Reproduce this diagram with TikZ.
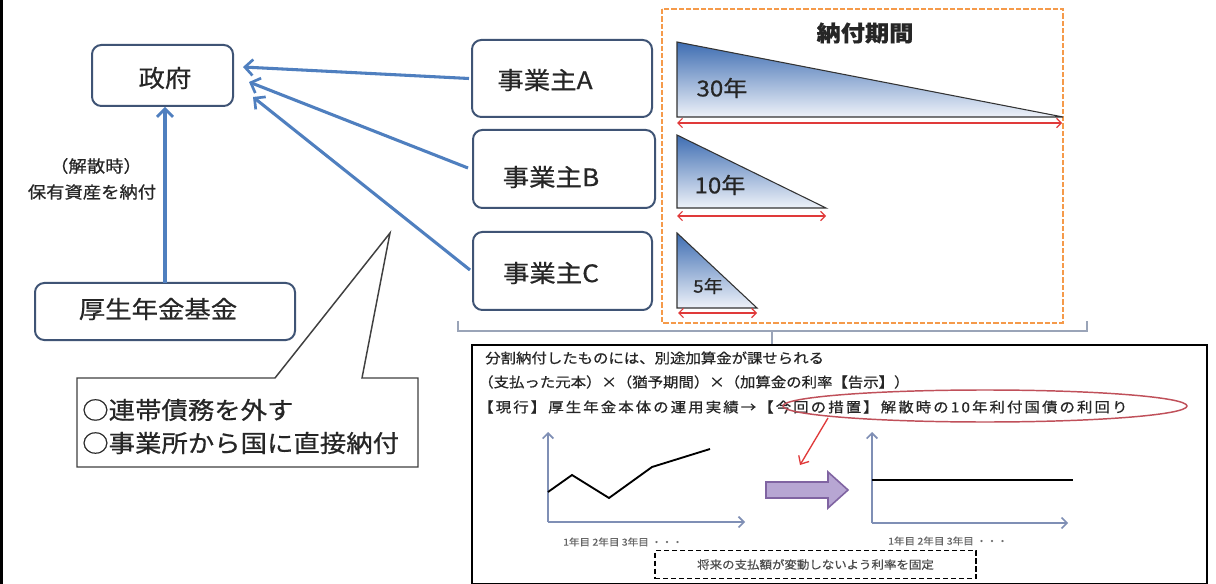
\documentclass[tikz,border=0pt]{standalone}
\usepackage{fontspec}
\setmainfont{Noto Sans CJK JP}[FakeStretch=1.1,FakeBold=0.6]
\usetikzlibrary{arrows.meta,shapes.geometric,calc}
\definecolor{boxb}{HTML}{3F5475}
\definecolor{arrb}{HTML}{4F7FBF}
\definecolor{txt}{HTML}{262626}
\definecolor{orng}{HTML}{F59A4A}
\definecolor{triT}{HTML}{3E6DB2}
\definecolor{triB}{HTML}{EEF2F9}
\definecolor{redl}{HTML}{E03A3A}
\definecolor{ellc}{HTML}{C0505A}
\definecolor{axisc}{HTML}{7F8FB5}
\definecolor{purF}{HTML}{B7A6D3}
\definecolor{purD}{HTML}{8064A2}
\definecolor{brk}{HTML}{9AA4B8}
\newcommand\jfs[1]{\fontsize{#1}{#1}\selectfont}
\begin{document}
\begin{tikzpicture}[x=0.75pt,y=-0.75pt,
  bx/.style={draw=boxb, line width=1.5pt, rounded corners=7pt, fill=white, inner sep=0pt},
  barr/.style={draw=arrb, line width=2.3pt, -{Straight Barb[length=6pt,width=12pt,line width=2pt]}},
  tri/.style={draw=black!80, line width=0.8pt, top color=triT, bottom color=triB},
  rarr/.style={draw=redl, line width=0.9pt, {Straight Barb[length=3.5pt,width=7pt]}-{Straight Barb[length=3.5pt,width=7pt]}},
  axarr/.style={draw=axisc, line width=1.2pt, -{Straight Barb[length=4pt,width=8pt]}},
  lbl/.style={text=txt, inner sep=0pt},
  big/.style={lbl, font=\jfs{18pt}},
  yrs/.style={text=black!60, inner sep=0pt, font=\jfs{7.2pt}},
  ln/.style={lbl, anchor=west, font=\jfs{10.5pt}}
]
\useasboundingbox (0,0) rectangle (1216,584);
\fill[white] (0,0) rectangle (1216,584);
\draw[black, line width=1.5pt] (1.5,0) -- (1.5,584);

% government & fund
\node[bx, minimum width=105.75pt, minimum height=45.75pt] (gov) at (162.5,75.5) {};
\node[big] at (165,78) {政府};
\node[bx, minimum width=195pt, minimum height=42.75pt] (fund) at (165,311.5) {};
\node[big] at (158,309) {厚生年金基金};
\coordinate (fs) at (165,283);
\coordinate (gs) at (165,107);
\draw[barr] (fs) -- (gs);
\node[lbl, font=\jfs{12.5pt}] at (96,166) {（解散時）};
\node[lbl, font=\jfs{12.5pt}] at (92,192) {保有資産を納付};

% employers
\node[bx, minimum width=135pt, minimum height=57.75pt] (A) at (562,78.5) {};
\node[big] at (545,80) {事業主A};
\node[bx, minimum width=136.5pt, minimum height=58.5pt] (B) at (564,169) {};
\node[big] at (551,177) {事業主B};
\node[bx, minimum width=134.25pt, minimum height=58.5pt] (C) at (562.5,271) {};
\node[big] at (551,273) {事業主C};
\draw[barr] ($(A.west)+(-2,0)$) -- ($(gov.east)+(9,-8.5)$);
\draw[barr] ($(B.west)+(-4,-1)$) -- ($(gov.east)+(15,6.5)$);
\draw[barr] ($(C.west)+(-2,-1)$) -- ($(gov.east)+(19,21.5)$);

% payment period box
\draw[orng, line width=1.8pt, dash pattern=on 4pt off 1.5pt] (662,9) rectangle (1063,323);
\node[lbl, font=\bfseries\jfs{16.5pt}] at (865,33) {納付期間};
\draw[tri] (677,42) -- (677,117) -- (1063,117) -- cycle;
\node[lbl, font=\jfs{16.5pt}] at (722,88) {30年};
\draw[rarr] (677,123) -- (1062,123);
\draw[tri] (677,135) -- (677,208) -- (826,208) -- cycle;
\node[lbl, font=\jfs{16.5pt}] at (720,185) {10年};
\draw[rarr] (677,216) -- (826,216);
\draw[tri] (677,233) -- (677,308) -- (757,308) -- cycle;
\node[lbl, font=\jfs{13pt}] at (708,286) {5年};
\draw[rarr] (678,313) -- (757,313);

% bracket
\draw[brk, line width=1.1pt] (458,321) -- (458,331) -- (1087,331) -- (1087,321);

% callout
\draw[black!75, line width=1.1pt, fill=white] (77,378) -- (275,378) -- (390,233) -- (362,378) -- (418,378) -- (418,467) -- (77,467) -- cycle;
\node[lbl, anchor=west, font=\jfs{18pt}] at (82,410) {○連帯債務を外す};
\node[lbl, anchor=west, font=\jfs{18pt}] at (82,443) {○事業所から国に直接納付};

% lower box
\node[draw=black, line width=1.5pt, minimum width=551.25pt, minimum height=179.25pt, inner sep=0pt] (low) at (839.5,464.5) {};
\coordinate (bt) at (772,331);
\draw[brk, line width=1.1pt] (bt) -- (bt |- low.north);
\node[ln] at (485,358) {分割納付したものには、別途加算金が課せられる};
\node[ln] at (478,382) {（支払った元本）×（猶予期間）×（加算金の利率【告示】）};
\node[ln, font=\jfs{10.5pt}\addfontfeature{LetterSpace=15}] at (478,407) {【現行】厚生年金本体の運用実績→【今回の措置】解散時の10年利付国債の利回り};
\node[draw=ellc, line width=1.1pt, ellipse, minimum width=303pt, minimum height=24pt, inner sep=0pt] (ell) at (985,406) {};
\coordinate (rs) at (828,418);
\coordinate (re) at (800,465);
\draw[redl, line width=1pt, -{Straight Barb[length=5pt,width=9pt]}] (rs) -- (re);

% left chart
\draw[axarr] (548,522) -- (548,432);
\draw[axarr] (548,522) -- (745,522);
\draw[black, line width=1.4pt] (548,492) -- (572,475) -- (609,498) -- (652,467) -- (710,449);
\node[yrs] at (623,542) {1年目 2年目 3年目 ・・・};

% purple block arrow
\draw[purD, fill=purF, line width=1.2pt] (766,482) -- (828,482) -- (828,472) -- (848,490) -- (828,508) -- (828,498) -- (766,498) -- cycle;

% right chart
\draw[axarr] (872,523) -- (872,432);
\draw[axarr] (872,523) -- (1068,523);
\draw[black, line width=1.4pt] (872,480) -- (1073,480);
\node[yrs] at (948,541) {1年目 2年目 3年目 ・・・};

% dashed note
\node[draw=black, line width=1pt, dash pattern=on 4pt off 2pt, minimum width=240.75pt, minimum height=21pt, inner sep=0pt, text=black!70, font=\jfs{8.5pt}] (note) at (815.5,564.5) {将来の支払額が変動しないよう利率を固定};
\end{tikzpicture}
\end{document}
